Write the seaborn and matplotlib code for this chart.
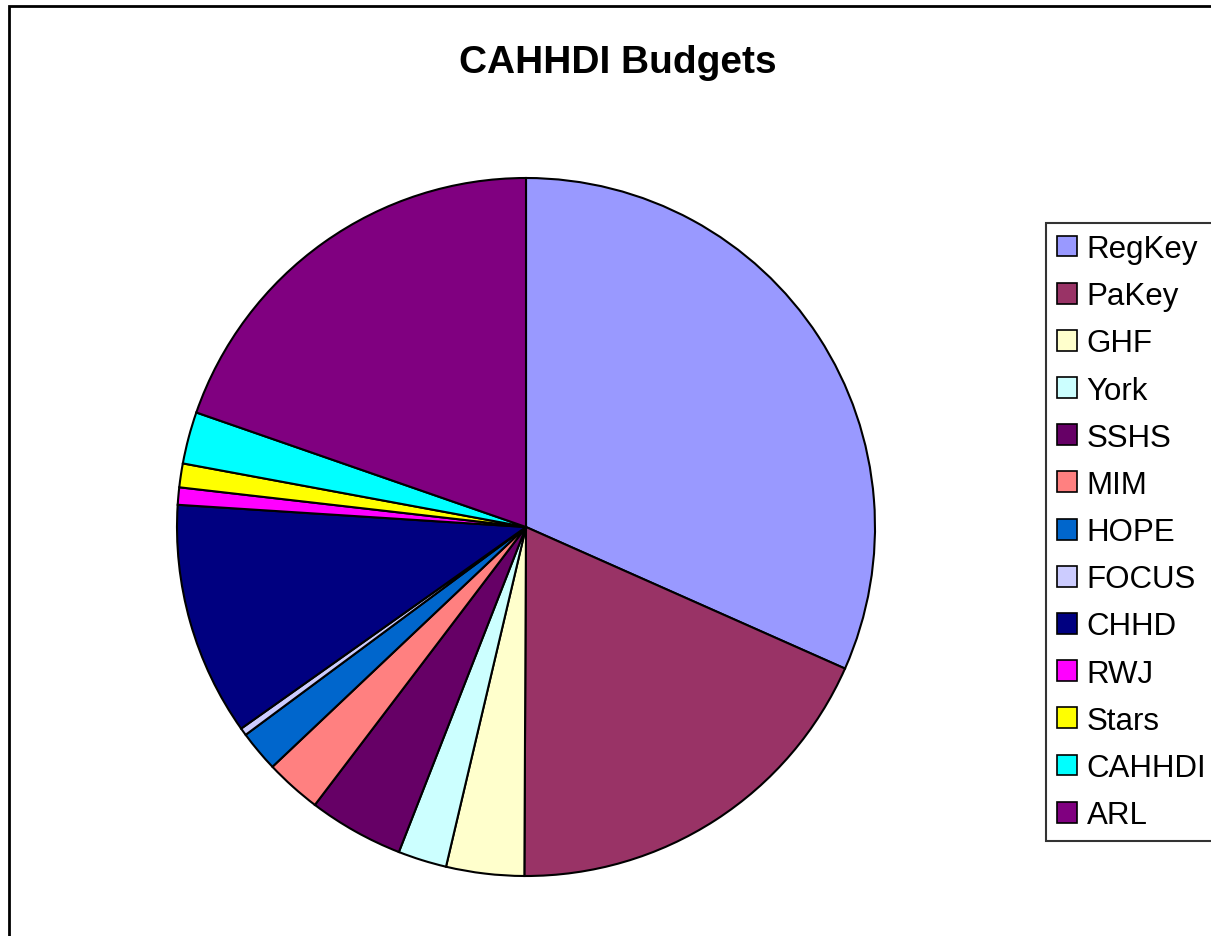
import matplotlib
matplotlib.use('Agg')
import matplotlib.pyplot as plt
import matplotlib.patches as mpatches
import seaborn as sns

# Budget shares (percent)
programs = ['RegKey', 'PaKey', 'GHF', 'York', 'SSHS', 'MIM', 'HOPE',
            'FOCUS', 'CHHD', 'RWJ', 'Stars', 'CAHHDI', 'ARL']
shares = [31.6, 18.4, 3.6, 2.25, 4.4, 2.6, 1.9, 0.35, 10.8, 0.8, 1.1, 2.4, 19.65]
colors = ['#9999FF', '#993366', '#FFFFCC', '#CCFFFF', '#660066', '#FF8080',
          '#0066CC', '#CCCCFF', '#000080', '#FF00FF', '#FFFF00', '#00FFFF',
          '#800080']

sns.set_theme(style='white')
plt.rcParams['font.family'] = ['Liberation Sans', 'DejaVu Sans']
plt.rcParams['text.color'] = 'black'

fig = plt.figure(figsize=(12.11, 9.37), dpi=100)
ax = fig.add_axes([177 / 1211, 60 / 937, 698 / 1211, 698 / 937])

palette = sns.color_palette(colors)
wedges, _ = ax.pie(shares, colors=palette, startangle=90, counterclock=False,
                   wedgeprops=dict(edgecolor='black', linewidth=1.5))
ax.set_xlim(-1, 1)
ax.set_ylim(-1, 1)
ax.set_aspect('equal')
ax.axis('off')

# Title
fig.text(618 / 1211, 1 - 63 / 937, 'CAHHDI Budgets', ha='center', va='center',
         fontsize=28, fontweight='bold', color='black')

# Outer chart border (runs off the right and bottom edges)
fig.patches.append(mpatches.Rectangle((9 / 1211, -0.1), 1.2, 1.1 - 7 / 937,
                                      transform=fig.transFigure, fill=False,
                                      edgecolor='black', linewidth=2))

handles = [mpatches.Patch(facecolor=c, edgecolor='black', linewidth=1.2)
           for c in colors]
leg = fig.legend(handles, programs, loc='upper left',
                 bbox_to_anchor=(1046 / 1211, 1 - 224 / 937),
                 borderaxespad=0, fontsize=22.5, frameon=True, fancybox=False,
                 handlelength=0.65, handleheight=0.65, handletextpad=0.3,
                 labelspacing=0.55, borderpad=0.35)
leg.get_frame().set_edgecolor('black')
leg.get_frame().set_linewidth(1.5)
for t in leg.get_texts():
    t.set_color('black')

plt.savefig('out.png', dpi=100)
